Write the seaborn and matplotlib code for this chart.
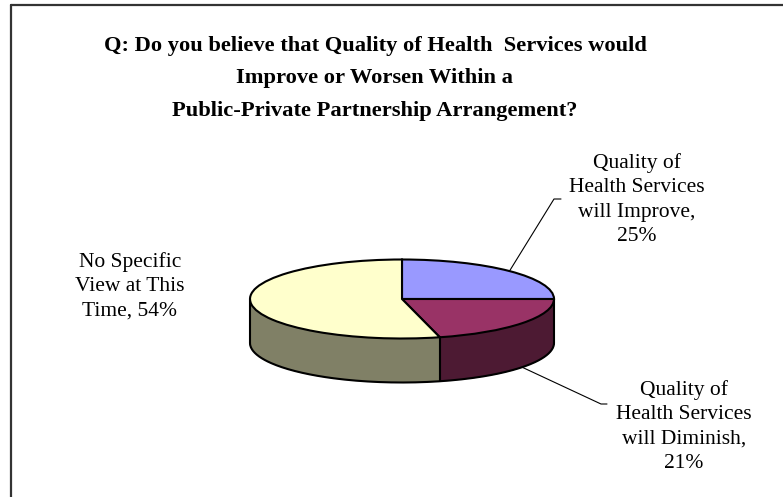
import numpy as np
import matplotlib
matplotlib.use("Agg")
import matplotlib.pyplot as plt
from matplotlib.colors import to_rgb
from matplotlib.lines import Line2D
import seaborn as sns

# Survey answers, in drawing order (clockwise from 12 o'clock)
categories = [
    "Quality of\nHealth Services\nwill Improve",
    "Quality of\nHealth Services\nwill Diminish",
    "No Specific\nView at This\nTime",
]
values = [25, 21, 54]
pct_joiner = [",\n", ",\n", ", "]
title_lines = [
    "Q: Do you believe that Quality of Health  Services would",
    "Improve or Worsen Within a",
    "Public-Private Partnership Arrangement?",
]
top_colors = ["#9999FF", "#993366", "#FFFFCC"]

sns.set_theme(style="white")
SERIF = ["Liberation Serif", "DejaVu Serif"]
plt.rcParams["font.family"] = SERIF

W, H = 783, 497
fig = plt.figure(figsize=(W / 100, H / 100), dpi=100)
fig.patch.set_facecolor("white")
ax = fig.add_axes([0, 0, 1, 1])

# ellipse geometry in pixels: centre, radii and the thickness of the disc
CX, CY, RX, RY, DEPTH_PX = 402, 299, 152, 39.5, 44
depth = DEPTH_PX / RY


def to_data(px, py):
    return (px - CX) / RX, (CY - py) / RY


def fig_xy(px, py):
    return px / W, 1 - py / H


side_colors = [tuple(np.array(to_rgb(c)) * 0.5) for c in top_colors]

# extruded side walls: a stack of darker pies
for t in np.linspace(depth, 0, 90)[:-1]:
    wedges, _ = ax.pie(values, colors=side_colors, startangle=90, counterclock=False,
                       radius=1, center=(0, -t),
                       wedgeprops=dict(linewidth=0.6, edgecolor=None))
    for w in wedges:
        w.set_edgecolor(w.get_facecolor())

# top face
ax.pie(values, colors=top_colors, startangle=90, counterclock=False, radius=1,
       center=(0, 0), wedgeprops=dict(linewidth=1.5, edgecolor="black"))

ax.set_aspect("auto")
x0, y1 = to_data(0, 0)
x1, y0 = to_data(W, H)
ax.set_xlim(x0, x1)
ax.set_ylim(y0, y1)
ax.axis("off")

outline = dict(color="black", lw=1.5, solid_capstyle="round", zorder=5)
# front rim of the base
th = np.linspace(np.pi, 2 * np.pi, 200)
ax.plot(np.cos(th), np.sin(th) - depth, **outline)
# outer silhouette edges
for sx in (-1, 1):
    ax.plot([sx, sx], [0, -depth], **outline)
# slice boundaries visible on the front wall
bounds = 90 - 360 * np.cumsum(values) / np.sum(values)
for a in np.radians(bounds):
    if np.sin(a) < -1e-9:
        ax.plot([np.cos(a)] * 2, [np.sin(a), np.sin(a) - depth], **outline)

# labels
label_pos = [(637, 163), (684, 390), (130, 262)]
line_gap = 24.5
for cat, val, joiner, (lx, ly) in zip(categories, values, pct_joiner, label_pos):
    text = f"{cat}{joiner}{val}%"
    for i, line in enumerate(text.split("\n")):
        fx, fy = fig_xy(lx, ly + i * line_gap)
        fig.text(fx, fy, line, ha="center", va="center", fontsize=15.5,
                 family=SERIF, color="black")

# leader lines from slice mid-angles
mids = 90 - 360 * (np.cumsum(values) - np.array(values) / 2) / np.sum(values)
leaders = {0: ((554, 199), (561, 199), 0.0), 1: ((601, 404), (607, 404), depth)}
for idx, (p1, p2, drop) in leaders.items():
    a = np.radians(mids[idx])
    xs = [np.cos(a), to_data(*p1)[0], to_data(*p2)[0]]
    ys = [np.sin(a) - drop, to_data(*p1)[1], to_data(*p2)[1]]
    ax.plot(xs, ys, color="black", lw=0.8, zorder=6)

# title
for i, line in enumerate(title_lines):
    fx, fy = fig_xy(375, 46 + i * 32.5)
    fig.text(fx, fy, line, ha="center", va="center", fontsize=16.2, fontweight="bold",
             family=SERIF, color="black")

# chart frame (top and left edges)
fig.add_artist(Line2D([11 / W, 11 / W], [0, 1 - 5 / H], color="#333333", lw=1.6))
fig.add_artist(Line2D([11 / W, 1], [1 - 5 / H, 1 - 5 / H], color="#333333", lw=1.6))

fig.savefig("out.png", dpi=100, facecolor="white")
